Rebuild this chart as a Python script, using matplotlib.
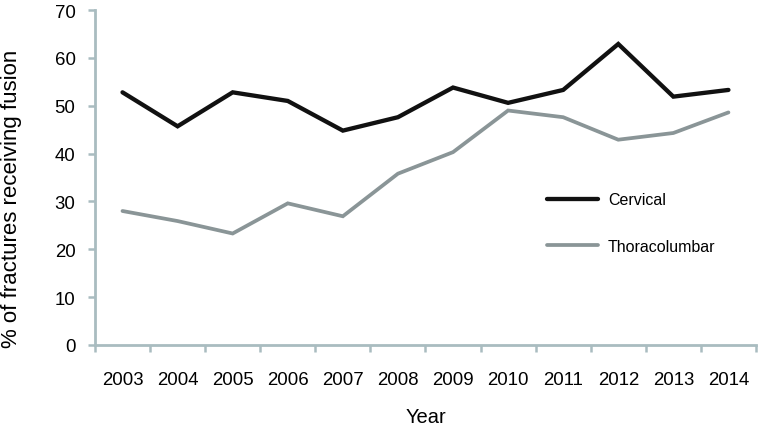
import numpy as np
import matplotlib.pyplot as plt
from matplotlib.ticker import FixedLocator

plt.rcParams['font.family'] = ['Liberation Sans', 'DejaVu Sans']

# ------------------------ data ------------------------
years = ['2003', '2004', '2005', '2006', '2007', '2008',
         '2009', '2010', '2011', '2012', '2013', '2014']
cervical = [52.8, 45.7, 52.8, 51.0, 44.8, 47.6, 53.8, 50.6, 53.3, 62.9, 51.9, 53.3]
thoracolumbar = [28.0, 25.9, 23.3, 29.6, 26.9, 35.8, 40.3, 49.0, 47.6, 42.9, 44.3, 48.6]
y_ticks = [0, 10, 20, 30, 40, 50, 60, 70]

axis_col = '#a9bcc0'

# ------------------------ figure ------------------------
fig = plt.figure(figsize=(7.64, 4.27), dpi=100)
ax = fig.add_axes([0.1243, 0.1897, 0.8652, 0.7845])

x = np.arange(len(years))
ax.plot(x, cervical, color='#111111', lw=3.1, solid_capstyle='round',
        solid_joinstyle='miter', label='Cervical')
ax.plot(x, thoracolumbar, color='#8a9597', lw=2.7, solid_capstyle='round',
        solid_joinstyle='miter', label='Thoracolumbar')

ax.set_xlim(-0.5, len(years) - 0.5)
ax.set_ylim(0, 70)

# x: labels at centres, tick marks at category boundaries
ax.set_xticks(x)
ax.set_xticklabels(years, fontsize=13.4)
ax.tick_params(axis='x', which='major', length=0, pad=19)
ax.xaxis.set_minor_locator(FixedLocator(np.arange(-0.5, len(years), 1.0)))
ax.tick_params(axis='x', which='minor', length=5, width=1.8, color=axis_col,
               direction='out')

ax.set_yticks(y_ticks)
ax.tick_params(axis='y', length=5, width=1.8, color=axis_col, direction='out',
               labelsize=13.4, pad=9)

for side in ['top', 'right']:
    ax.spines[side].set_visible(False)
for side in ['left', 'bottom']:
    ax.spines[side].set_color(axis_col)
    ax.spines[side].set_linewidth(2.0)

ax.set_xlabel('Year', fontsize=14.5)
ax.xaxis.set_label_coords(0.5, -0.185)
ax.set_ylabel('% of fractures receiving fusion', fontsize=16)
ax.yaxis.set_label_coords(-0.11, 0.44)

ax.legend(loc='center left', bbox_to_anchor=(0.684, 0.364), frameon=False,
          fontsize=11.5, handlelength=3.2, handletextpad=0.6, labelspacing=2.0,
          borderpad=0, borderaxespad=0)

fig.savefig('out.png', dpi=100)
